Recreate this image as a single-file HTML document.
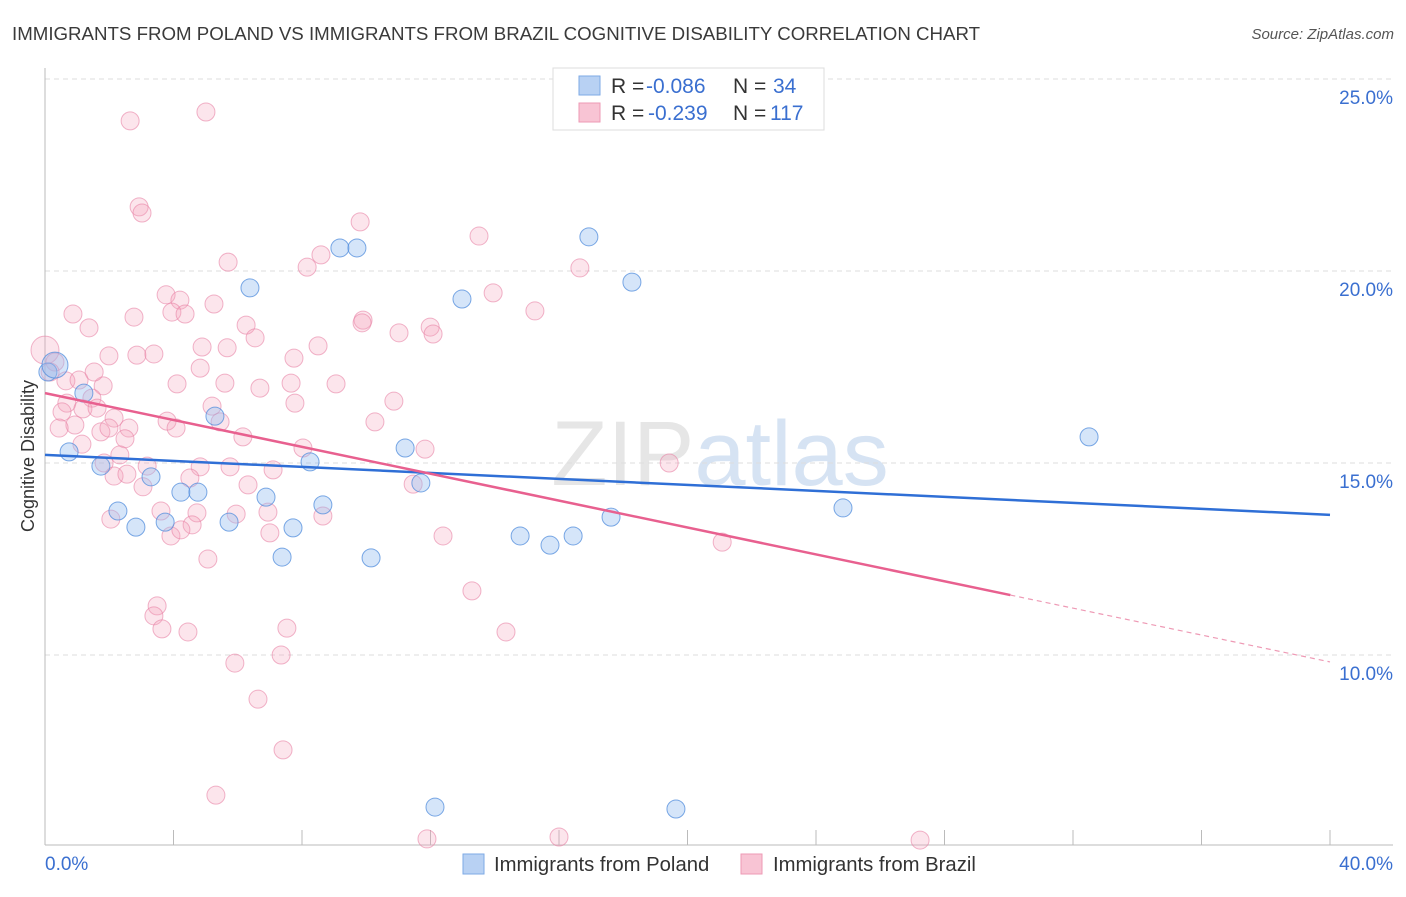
<!DOCTYPE html>
<html><head><meta charset="utf-8"><style>
body{margin:0;background:#fff;font-family:"Liberation Sans",sans-serif}
svg text{font-family:"Liberation Sans",sans-serif}
</style></head><body>
<svg id="chart" width="1406" height="892" xmlns="http://www.w3.org/2000/svg">
<text x="12" y="40" font-size="18.7" fill="#3a3a3a">IMMIGRANTS FROM POLAND VS IMMIGRANTS FROM BRAZIL COGNITIVE DISABILITY CORRELATION CHART</text>
<text x="1394" y="39" font-size="15" fill="#555" font-style="italic" text-anchor="end">Source: ZipAtlas.com</text>
<text x="720" y="485" font-size="92" fill="#e6e6e6" text-anchor="middle" font-family="Liberation Serif">ZIP<tspan fill="#d6e3f3" font-family="Liberation Sans">atlas</tspan></text>
<text transform="translate(34,456) rotate(-90)" font-size="18" fill="#333" text-anchor="middle">Cognitive Disability</text>
<g id="grid"></g><g id="axes"></g><g id="trends"></g><g id="pts"></g>
<g>
<rect x="553" y="68" width="271" height="62" fill="#fff" stroke="#ddd"/>
<rect x="579" y="76" width="21" height="19" fill="#b8d1f3" stroke="#7eaae6"/>
<rect x="579" y="103" width="21" height="19" fill="#f8c4d4" stroke="#ee9ab5"/>
<text x="611" y="93" font-size="21" fill="#333">R = <tspan x="646" fill="#3a6fd0">-0.086</tspan><tspan x="733">N = </tspan><tspan x="773" fill="#3a6fd0">34</tspan></text>
<text x="611" y="120" font-size="21" fill="#333">R = <tspan x="648" fill="#3a6fd0">-0.239</tspan><tspan x="733">N = </tspan><tspan x="770" fill="#3a6fd0">117</tspan></text>
</g>
<g>
<rect x="463" y="854" width="21" height="20" fill="#b8d1f3" stroke="#7eaae6"/>
<text x="494" y="871" font-size="20.3" fill="#333">Immigrants from Poland</text>
<rect x="741" y="854" width="21" height="20" fill="#f8c4d4" stroke="#ee9ab5"/>
<text x="773" y="871" font-size="20.3" fill="#333">Immigrants from Brazil</text>
</g>
</svg>
<script>
const yTicks=[10,15,20,25];
const yTickLabels=["10.0%","15.0%","20.0%","25.0%"];
const xTickLabels=["0.0%","40.0%"];
const polandX=[0.09,0.31,1.21,0.75,1.74,2.27,2.83,3.30,3.74,4.23,4.76,5.29,5.73,6.38,6.88,7.38,7.72,8.25,8.65,9.18,9.71,10.15,11.21,11.70,12.14,12.98,14.79,15.72,16.44,16.93,17.62,18.27,19.64,24.84,32.50];
const polandY=[17.37,17.55,16.82,15.29,14.92,13.75,13.33,14.64,13.46,14.24,14.24,16.22,13.46,19.56,14.11,12.55,13.31,15.03,13.91,20.60,20.60,12.53,15.39,14.48,6.04,19.27,13.10,12.86,13.10,20.89,13.59,19.71,5.99,13.83,15.68];
const brazilX=[0,0.31,2.65,5.01,2.93,3.02,9.81,13.51,5.70,8.16,8.59,16.65,0.87,1.37,2.77,3.77,4.20,3.95,4.36,5.26,6.26,6.54,9.90,9.87,11.02,11.99,12.08,13.95,15.25,1.99,2.86,3.39,4.89,5.67,8.50,7.75,4.83,0.65,1.06,1.81,4.11,5.60,6.69,7.66,9.06,0.68,1.46,1.18,1.62,0.53,10.86,5.20,7.78,2.15,3.80,4.08,5.45,10.27,0.93,1.74,1.99,2.61,2.49,0.44,1.15,6.16,8.03,11.83,2.33,1.84,3.18,4.83,5.76,7.10,19.43,2.15,2.55,3.05,4.51,6.32,11.46,3.61,4.73,5.95,6.94,8.65,2.05,4.58,3.92,4.23,7.00,12.39,21.08,5.07,13.29,3.49,3.39,3.64,4.45,7.53,14.35,7.35,5.91,6.63,7.41,5.32,11.89,16.00,27.24,0.16,1.53];
const brazilY=[17.94,17.63,23.91,24.14,21.67,21.51,21.28,20.91,20.23,20.10,20.42,20.08,18.88,18.52,18.80,19.38,19.24,18.93,18.88,19.14,18.59,18.26,18.72,18.65,18.39,18.54,18.36,19.43,18.96,17.79,17.81,17.84,18.02,18.00,18.05,17.73,17.47,17.14,17.16,17.01,17.06,17.08,16.95,17.08,17.06,16.56,16.69,16.41,16.43,16.33,16.61,16.48,16.56,16.17,16.09,15.91,16.07,16.07,15.99,15.81,15.91,15.91,15.63,15.91,15.49,15.68,15.39,15.36,15.21,15.00,14.92,14.90,14.90,14.82,15.00,14.66,14.71,14.38,14.61,14.43,14.45,13.75,13.70,13.67,13.72,13.62,13.54,13.39,13.10,13.26,13.18,13.10,12.94,12.50,11.67,11.28,11.02,10.68,10.60,10.70,10.60,10.00,9.79,8.85,7.53,6.35,5.21,5.26,5.18,17.37,17.37];
const polandTrend=[15.21,13.65];
const brazilTrend=[16.82,9.82];
const brazilSolidEnd=30.05;

const NS="http://www.w3.org/2000/svg";
const xs=v=>45+v/40*1285;
const ys=v=>79+(25-v)*38.4;
function mk(tag,attrs,parent){const e=document.createElementNS(NS,tag);for(const k in attrs)e.setAttribute(k,attrs[k]);document.getElementById(parent).appendChild(e);return e;}
yTicks.forEach((t,i)=>{
  const l=mk('line',{x1:45,x2:1393,y1:ys(t),y2:ys(t),stroke:'#ddd','stroke-dasharray':'5,4'},'grid');
  
  
  const tx=mk('text',{x:1393,y:ys(t)+25,'font-size':19,fill:'#3a6fd0','text-anchor':'end'},'grid');
  tx.textContent=yTickLabels[i];
  
  
});
const ax=mk('line',{x1:45,x2:45,y1:68,y2:845,stroke:'#bbb'},'axes');


const bx=mk('line',{x1:45,x2:1393,y1:845,y2:845,stroke:'#bbb'},'axes');


for(let i=1;i<=10;i++){const t=mk('line',{x1:xs(i*4),x2:xs(i*4),y1:830,y2:845,stroke:'#bbb'},'axes');

}
const xl0=mk('text',{x:45,y:870,'font-size':19,fill:'#3a6fd0'},'axes');xl0.textContent=xTickLabels[0];


const xl1=mk('text',{x:1393,y:870,'font-size':19,fill:'#3a6fd0','text-anchor':'end'},'axes');xl1.textContent=xTickLabels[1];



brazilX.forEach((x,i)=>{const c=mk('circle',{cx:xs(x),cy:ys(brazilY[i]),r:i===0?14:9,fill:'rgba(244,160,188,0.28)',stroke:'rgba(232,130,165,0.6)','stroke-width':1},'pts');

});
polandX.forEach((x,i)=>{const c=mk('circle',{cx:xs(x),cy:ys(polandY[i]),r:i===1?13:9,fill:'rgba(150,190,240,0.4)',stroke:'rgba(80,140,220,0.75)','stroke-width':1},'pts');

});

const pl=mk('line',{x1:xs(0),y1:ys(polandTrend[0]),x2:xs(40),y2:ys(polandTrend[1]),stroke:'#2f6fd6','stroke-width':2.5},'pts');


const bAt=x=>brazilTrend[0]+(brazilTrend[1]-brazilTrend[0])*x/40;
const bl=mk('line',{x1:xs(0),y1:ys(bAt(0)),x2:xs(brazilSolidEnd),y2:ys(bAt(brazilSolidEnd)),stroke:'#e8608f','stroke-width':2.5},'pts');


const bd=mk('line',{x1:xs(brazilSolidEnd),y1:ys(bAt(brazilSolidEnd)),x2:xs(40),y2:ys(bAt(40)),stroke:'#ee9ab5','stroke-width':1.2,'stroke-dasharray':'5,4'},'pts');


</script>
</body></html>
